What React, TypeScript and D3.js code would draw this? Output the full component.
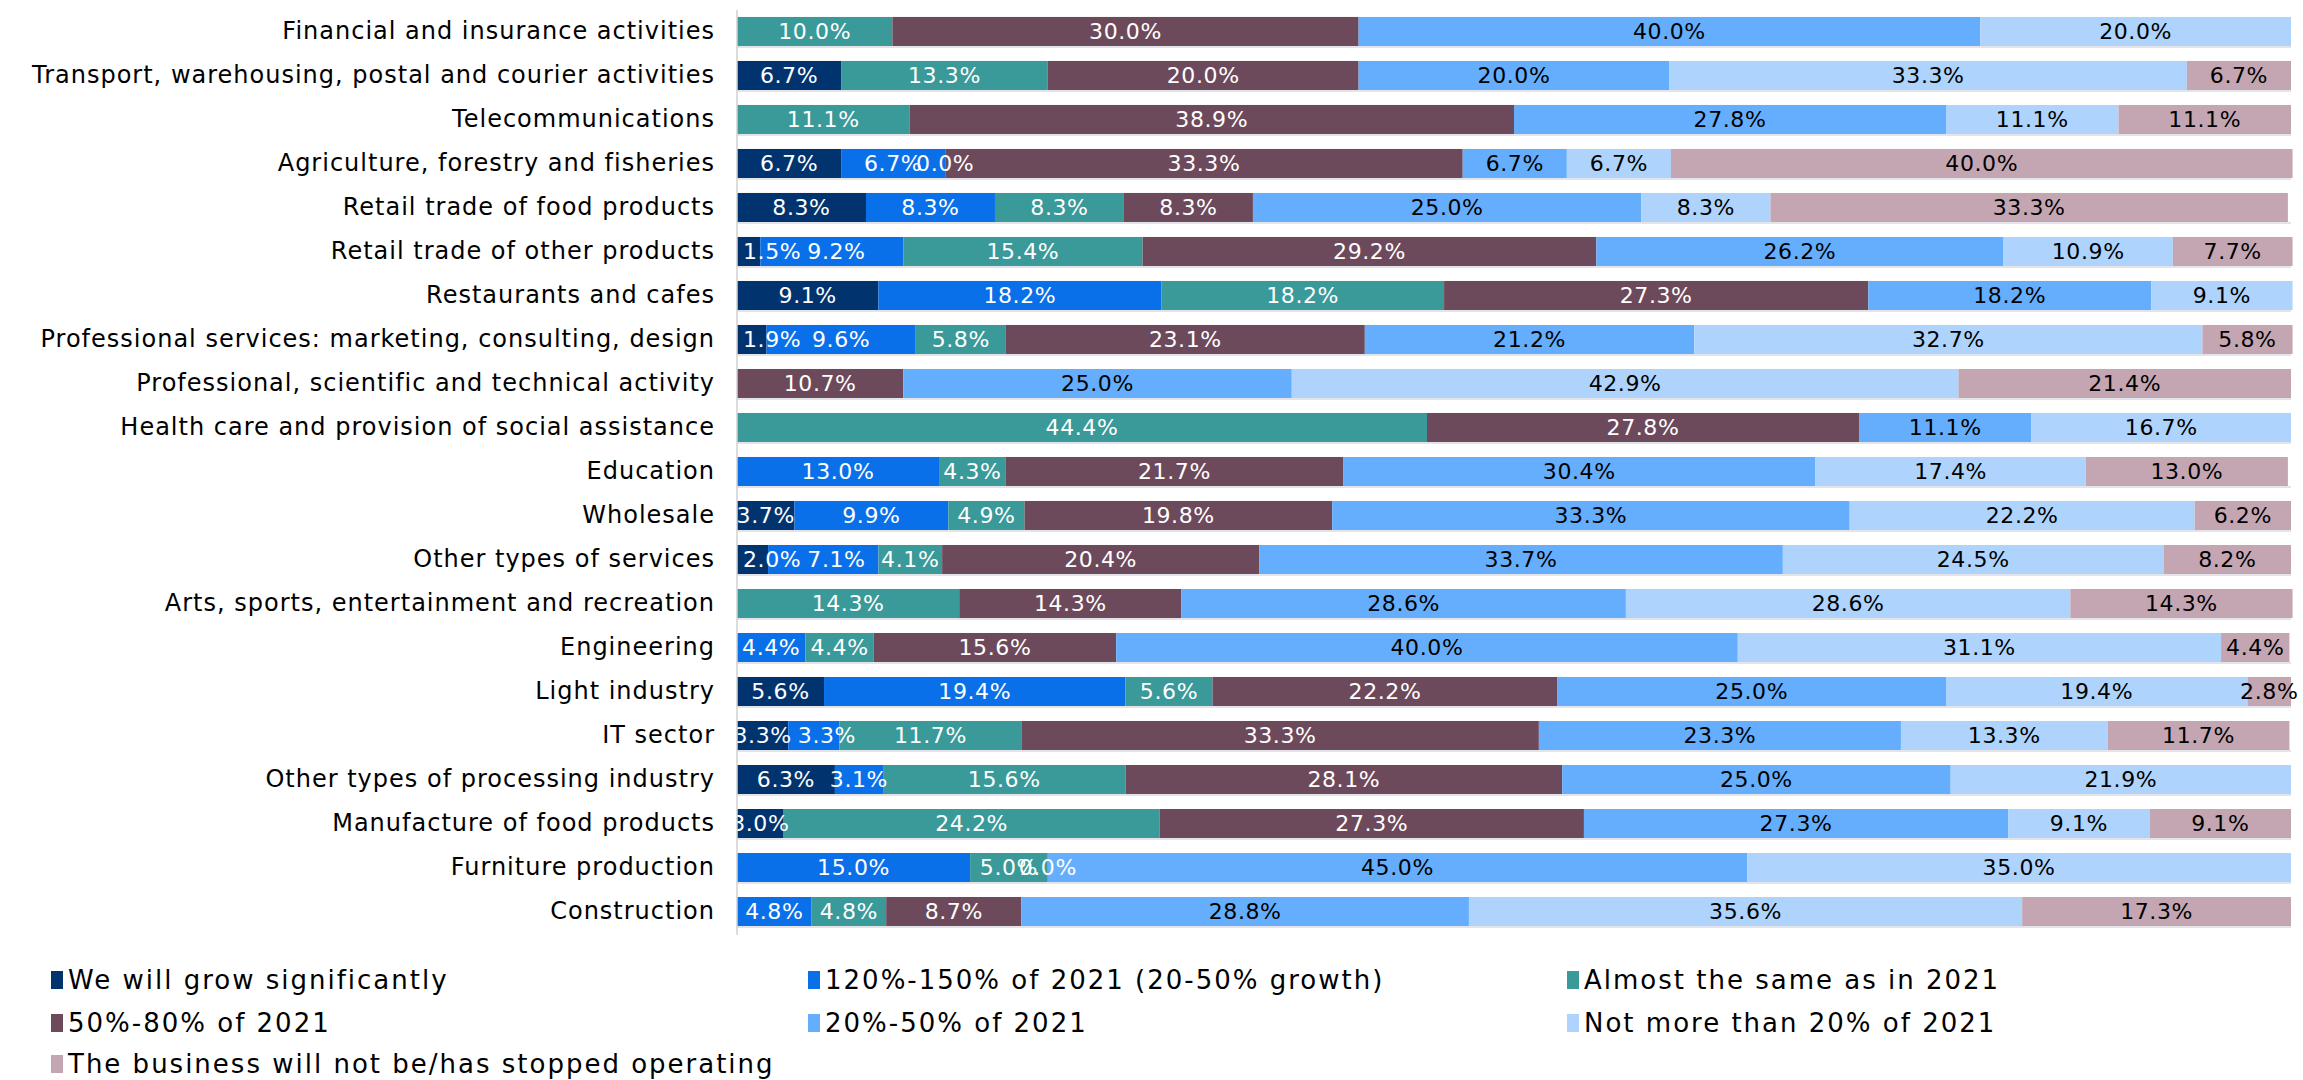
import { useEffect, useRef } from 'react';
import * as d3 from 'd3';

const categories = [
  'Financial and insurance activities',
  'Transport, warehousing, postal and courier activities',
  'Telecommunications',
  'Agriculture, forestry and fisheries',
  'Retail trade of food products',
  'Retail trade of other products',
  'Restaurants and cafes',
  'Professional services: marketing, consulting, design',
  'Professional, scientific and technical activity',
  'Health care and provision of social assistance',
  'Education',
  'Wholesale',
  'Other types of services',
  'Arts, sports, entertainment and recreation',
  'Engineering',
  'Light industry',
  'IT sector',
  'Other types of processing industry',
  'Manufacture of food products',
  'Furniture production',
  'Construction'
];

const seriesNames = [
  'We will grow significantly',
  '120%-150% of 2021 (20-50% growth)',
  'Almost the same as in 2021',
  '50%-80% of 2021',
  '20%-50% of 2021',
  'Not more than 20% of 2021',
  'The business will not be/has stopped operating'
];

// null = no answer in that group (no label), 0 = explicit 0.0%
const growSignificantly = [null, 6.7, null, 6.7, 8.3, 1.5, 9.1, 1.9, null, null, null, 3.7, 2.0, null, null, 5.6, 3.3, 6.3, 3.0, null, null];
const growth120to150 = [null, null, null, 6.7, 8.3, 9.2, 18.2, 9.6, null, null, 13.0, 9.9, 7.1, null, 4.4, 19.4, 3.3, 3.1, null, 15.0, 4.8];
const almostSame = [10.0, 13.3, 11.1, 0.0, 8.3, 15.4, 18.2, 5.8, null, 44.4, 4.3, 4.9, 4.1, 14.3, 4.4, 5.6, 11.7, 15.6, 24.2, 5.0, 4.8];
const share50to80 = [30.0, 20.0, 38.9, 33.3, 8.3, 29.2, 27.3, 23.1, 10.7, 27.8, 21.7, 19.8, 20.4, 14.3, 15.6, 22.2, 33.3, 28.1, 27.3, 0.0, 8.7];
const share20to50 = [40.0, 20.0, 27.8, 6.7, 25.0, 26.2, 18.2, 21.2, 25.0, 11.1, 30.4, 33.3, 33.7, 28.6, 40.0, 25.0, 23.3, 25.0, 27.3, 45.0, 28.8];
const under20 = [20.0, 33.3, 11.1, 6.7, 8.3, 10.9, 9.1, 32.7, 42.9, 16.7, 17.4, 22.2, 24.5, 28.6, 31.1, 19.4, 13.3, 21.9, 9.1, 35.0, 35.6];
const stopped = [null, 6.7, 11.1, 40.0, 33.3, 7.7, null, 5.8, 21.4, null, 13.0, 6.2, 8.2, 14.3, 4.4, 2.8, 11.7, null, 9.1, null, 17.3];

const seriesValues = [growSignificantly, growth120to150, almostSame, share50to80, share20to50, under20, stopped];
const colors = ['#01346f', '#0a70ea', '#3a9999', '#6d4a5b', '#65aefd', '#aed3fd', '#c4a6b3'];
const labelColors = ['#ffffff', '#ffffff', '#ffffff', '#ffffff', '#000000', '#000000', '#000000'];

const W = 2303;
const H = 1080;
const FONT = '"DejaVu Sans", sans-serif';

interface Seg {
  cat: string;
  s: number;
  v: number | null;
  start: number;
  end: number;
}

export default function App() {
  const svgRef = useRef<SVGSVGElement>(null);

  useEffect(() => {
    if (!svgRef.current) return;
    const svg = d3.select(svgRef.current);
    svg.selectAll('*').remove();

    const plotLeft = 737;
    const plotRight = 2291;

    const x = d3.scaleLinear().domain([0, 100]).range([plotLeft, plotRight]);
    const y = d3.scaleBand<string>()
      .domain(categories)
      .range([2, 941])
      .paddingInner(0.34)
      .paddingOuter(0.34);

    svg.append('defs')
      .append('clipPath')
      .attr('id', 'plot-clip')
      .append('rect')
      .attr('x', plotLeft)
      .attr('y', 0)
      .attr('width', plotRight - plotLeft + 40)
      .attr('height', 950);

    // stacked segments
    const rows: Seg[][] = categories.map((cat, i) => {
      let acc = 0;
      return seriesValues.map((vals, s) => {
        const v = vals[i];
        const start = acc;
        acc += v ?? 0;
        return { cat, s, v, start, end: acc };
      });
    });
    const segs = rows.flat();

    const g = svg.append('g');

    g.selectAll('rect.seg')
      .data(segs.filter(d => d.v !== null && d.v > 0))
      .enter()
      .append('rect')
      .attr('class', 'seg')
      .attr('x', d => x(d.start))
      .attr('y', d => y(d.cat)!)
      .attr('width', d => x(d.end) - x(d.start))
      .attr('height', y.bandwidth())
      .attr('fill', d => colors[d.s]);

    // faint line under each bar
    g.selectAll('line.under')
      .data(categories)
      .enter()
      .append('line')
      .attr('x1', plotLeft)
      .attr('x2', plotRight)
      .attr('y1', d => y(d)! + y.bandwidth() + 1)
      .attr('y2', d => y(d)! + y.bandwidth() + 1)
      .attr('stroke', '#e2e4ea')
      .attr('stroke-width', 2);

    // value labels
    const labelLayer = g.append('g').attr('clip-path', 'url(#plot-clip)');
    rows.forEach(row => {
      let prevRight = -Infinity;
      row.filter(d => d.v !== null).forEach(d => {
        const t = labelLayer.append('text')
          .attr('y', y(d.cat)! + y.bandwidth() / 2)
          .attr('dy', '0.36em')
          .attr('font-family', FONT)
          .attr('font-size', '22px')
          .attr('letter-spacing', '0.6px')
          .attr('fill', labelColors[d.s])
          .text(`${(d.v as number).toFixed(1)}%`);
        const w = (t.node() as SVGTextElement).getComputedTextLength();
        let left = x((d.start + d.end) / 2) - w / 2;
        // very thin first segments: keep the label inside the plot
        if (d.start === 0 && (d.v as number) < 2.5) left = plotLeft + 6;
        // nudge right when it would run into the previous label (zeros are left as is)
        if ((d.v as number) > 0 && left < prevRight + 6) left = prevRight + 6;
        t.attr('x', left);
        prevRight = left + w;
      });
    });

    // category axis
    const yAxis = svg.append('g')
      .attr('transform', `translate(${plotLeft},0)`)
      .call(d3.axisLeft(y).tickSize(0).tickPadding(22));
    yAxis.select('.domain').remove();
    yAxis.selectAll('text')
      .attr('font-family', FONT)
      .attr('font-size', '24px')
      .attr('letter-spacing', '1px')
      .attr('fill', '#000000');

    svg.append('line')
      .attr('x1', plotLeft)
      .attr('x2', plotLeft)
      .attr('y1', 10)
      .attr('y2', 935)
      .attr('stroke', '#d0d0d0')
      .attr('stroke-width', 1.5);

    // legend
    const legendCols = [51, 808, 1567];
    const legendRows = [980, 1023, 1064];
    const legend = svg.append('g');
    seriesNames.forEach((name, i) => {
      const lx = legendCols[i % 3];
      const ly = legendRows[Math.floor(i / 3)];
      const item = legend.append('g').attr('transform', `translate(${lx},${ly})`);
      item.append('rect')
        .attr('x', 0)
        .attr('y', -9)
        .attr('width', 12)
        .attr('height', 18)
        .attr('fill', colors[i]);
      item.append('text')
        .attr('x', 17)
        .attr('y', 0)
        .attr('dy', '0.36em')
        .attr('font-family', FONT)
        .attr('font-size', '26px')
        .attr('letter-spacing', '2px')
        .attr('fill', '#000000')
        .text(name);
    });
  }, []);

  return (
    <div style={{ position: 'absolute', left: 0, top: 0, width: W, height: H, background: '#ffffff' }}>
      <svg ref={svgRef} width={W} height={H} />
    </div>
  );
}
